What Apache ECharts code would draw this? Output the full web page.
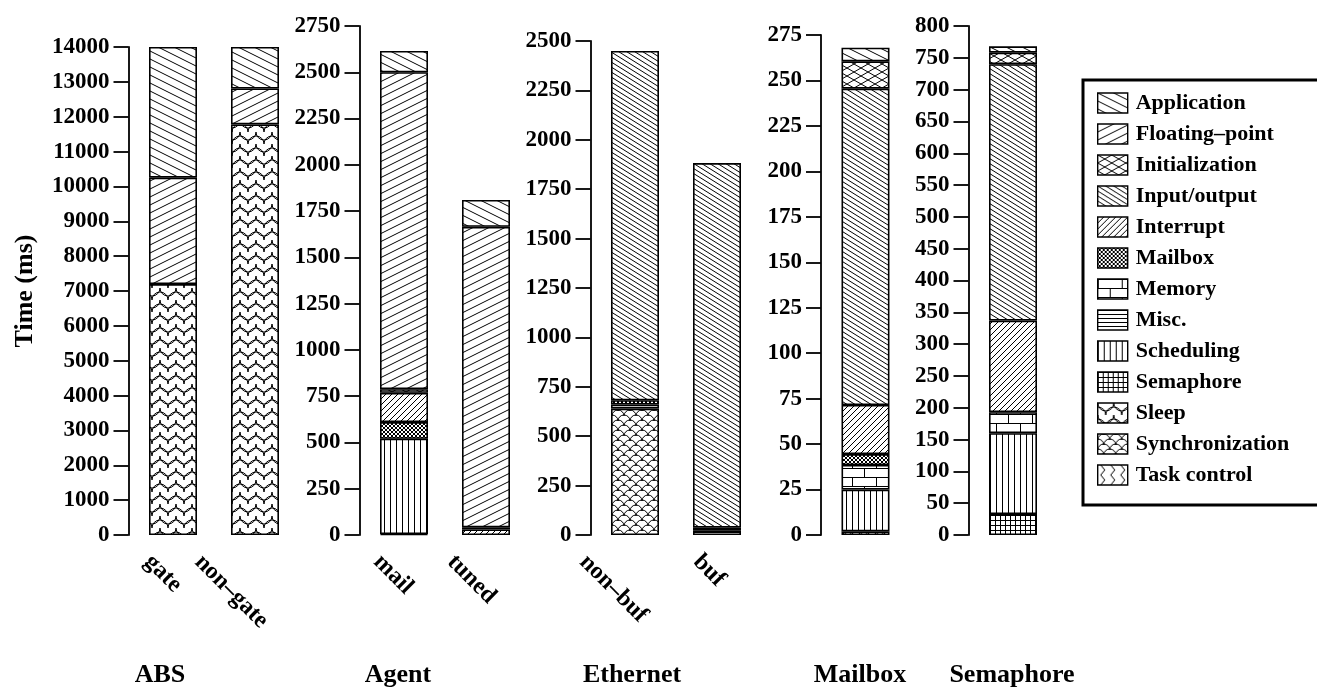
<!DOCTYPE html>
<html>
<head>
<meta charset="utf-8">
<script src="https://cdn.jsdelivr.net/npm/echarts@6/dist/echarts.min.js"></script>
<style>
html,body{margin:0;padding:0;background:#fff;}
#chart{width:1317px;height:694px;}
</style>
</head>
<body>
<div id="chart"></div>
<script>
// ---- data ----
const categoryNames = ['Application','Floating\u2013point','Initialization','Input/output','Interrupt','Mailbox','Memory','Misc.','Scheduling','Semaphore','Sleep','Synchronization','Task control'];
const groupNames = ['ABS','Agent','Ethernet','Mailbox','Semaphore'];
const absLabels = ['gate','non\u2013gate'];
const agentLabels = ['mail','tuned'];
const ethernetLabels = ['non\u2013buf','buf'];
const mailboxLabels = [''];
const semaphoreLabels = [''];
// values in legend order (Application ... Task control), ms
const absGate      = [3750, 3050, 0, 0, 0, 0, 0, 0, 0, 0, 7200, 0, 0];
const absNonGate   = [1190, 1030, 0, 0, 0, 0, 0, 0, 0, 0, 11780, 0, 0];
const agentMail    = [115, 1712, 20, 0, 158, 90, 0, 0, 515, 5, 0, 0, 0];
const agentTuned   = [145, 1623, 12, 0, 30, 0, 0, 0, 0, 0, 0, 0, 0];
const ethNonBuf    = [0, 0, 0, 1768, 0, 22, 0, 20, 0, 0, 0, 640, 0];
const ethBuf       = [0, 0, 0, 1845, 0, 15, 0, 22, 0, 0, 0, 0, 0];
const mailboxBar   = [7.5, 0, 15, 174, 27, 6, 13.5, 0, 23, 0, 2, 0, 0];
const semaphoreBar = [10, 0, 18, 403, 144, 0, 33, 0, 127, 33, 0, 0, 0];
// axis ranges
const yMax      = [14000, 2750, 2500, 275, 800];
const yInterval = [1000, 250, 250, 25, 50];

const groupBars = [[absGate, absNonGate],[agentMail, agentTuned],[ethNonBuf, ethBuf],[mailboxBar],[semaphoreBar]];
const groupLabels = [absLabels, agentLabels, ethernetLabels, mailboxLabels, semaphoreLabels];

// ---- layout ----
const gridBoxes = [
  {left:132, top:47, width:164, height:488},
  {left:363, top:26, width:164, height:509},
  {left:594, top:41, width:164, height:494},
  {left:824.5, top:35, width:82, height:500},
  {left:972, top:26, width:82, height:509}
];
const titleX = [160, 398, 632, 860, 1012];
const FONT = "'Liberation Serif','Times New Roman',serif";
const CAT_FONT = 24;
const LABEL_TOP = 550;   // top of rotated category labels

// ---- patterns ----
function tile(w, h, draw){
  const c = document.createElement('canvas');
  c.width = w; c.height = h;
  const g = c.getContext('2d');
  g.fillStyle = '#fff'; g.fillRect(0,0,w,h);
  g.strokeStyle = '#000'; g.lineWidth = 1;
  g.beginPath(); draw(g, w, h); g.stroke();
  return {image: c, repeat: 'repeat'};
}
function down(g,w,h){ for (const c of [-h,0,h]) { g.moveTo(0,c); g.lineTo(w,c+h); } }
function up(g,w,h){ for (const c of [-h,0,h]) { g.moveTo(0,h+c); g.lineTo(w,c); } }
function arcs(g, list, r, a0, a1){ for (const [x,y] of list){ g.moveTo(x + r*Math.cos(a0), y + r*Math.sin(a0)); g.arc(x,y,r,a0,a1); } }
const patterns = {};
patterns[categoryNames[0]] = tile(16,8,down);
patterns[categoryNames[1]] = tile(16,8,up);
patterns[categoryNames[2]] = tile(14,8,(g,w,h)=>{down(g,w,h);up(g,w,h);});
patterns[categoryNames[3]] = tile(8,5,down);
patterns[categoryNames[4]] = tile(6,6,up);
patterns[categoryNames[5]] = tile(4,4,(g,w,h)=>{down(g,w,h);up(g,w,h);});
patterns[categoryNames[6]] = tile(24,18,(g)=>{g.moveTo(0,0.5);g.lineTo(24,0.5);g.moveTo(0,9.5);g.lineTo(24,9.5);g.moveTo(0.5,0);g.lineTo(0.5,9.5);g.moveTo(12.5,9.5);g.lineTo(12.5,18);});
patterns[categoryNames[7]] = tile(4,4,(g)=>{g.moveTo(0,0.5);g.lineTo(4,0.5);});
patterns[categoryNames[8]] = tile(6,4,(g)=>{g.moveTo(0.5,0);g.lineTo(0.5,4);});
patterns[categoryNames[9]] = tile(5,5,(g)=>{g.moveTo(0,0.5);g.lineTo(5,0.5);g.moveTo(0.5,0);g.lineTo(0.5,5);});
patterns[categoryNames[10]] = tile(16,12,(g)=>{arcs(g,[[8,0],[-8,0],[24,0]],8,0,Math.PI);arcs(g,[[0,12],[16,12]],8,Math.PI,Math.PI*2);});
patterns[categoryNames[11]] = tile(12,10,(g)=>{arcs(g,[[6,6],[0,11],[12,11],[0,1],[12,1],[6,16]],6,Math.PI,Math.PI*2);});
patterns[categoryNames[12]] = tile(10,10,(g)=>{g.moveTo(3,0);g.lineTo(7,5);g.lineTo(3,10);});

// ---- rotated category label placement (rich padding) ----
const measureCtx = document.createElement('canvas').getContext('2d');
measureCtx.font = 'bold ' + CAT_FONT + 'px ' + FONT;
function labelRich(labels, axisBottom){
  const rich = {};
  labels.forEach((t, j) => {
    const L = measureCtx.measureText(t).width;
    const H = CAT_FONT;
    const sx = -15 - 0.27 * (L - 61);
    const sy = LABEL_TOP + 0.3536 * (L + H) - axisBottom;
    const d = (sx + sy) / Math.SQRT2;
    const e = (sy - sx) / Math.SQRT2;
    rich['k' + j] = {
      color:'#000', fontFamily:FONT, fontWeight:'bold', fontSize:CAT_FONT,
      padding:[Math.max(2*e,0), Math.max(-2*d,0), Math.max(-2*e,0), Math.max(2*d,0)]
    };
  });
  return rich;
}

// ---- build ----
const grid = gridBoxes.map(b => Object.assign({containLabel:false}, b));
const xAxis = groupLabels.map((labels, i) => ({
  type:'category', gridIndex:i, data:labels,
  axisLine:{show:false}, axisTick:{show:false},
  axisLabel:{
    rotate:-45, margin:0, interval:0, align:'center', verticalAlign:'middle',
    color:'#000', fontFamily:FONT, fontWeight:'bold', fontSize:CAT_FONT,
    formatter:(v, j) => v ? '{k' + j + '|' + v + '}' : '',
    rich: labelRich(labels, gridBoxes[i].top + gridBoxes[i].height)
  }
}));
const yAxis = yMax.map((m, i) => ({
  type:'value', gridIndex:i, min:0, max:m, interval:yInterval[i], offset:3.5,
  axisLine:{show:true, lineStyle:{color:'#000', width:1.8}},
  axisTick:{show:true, length:15, lineStyle:{color:'#000', width:1.8}},
  splitLine:{show:false},
  axisLabel:{margin:19, color:'#000', fontFamily:FONT, fontWeight:'bold', fontSize:23, formatter:(v)=>String(v)},
  name: i === 0 ? 'Time (ms)' : '',
  nameLocation:'middle', nameGap:90, nameRotate:90,
  nameTextStyle:{color:'#000', fontFamily:FONT, fontWeight:'bold', fontSize:26}
}));
const stackOrder = categoryNames.slice().reverse();
const series = [];
groupBars.forEach((bars, gi) => {
  stackOrder.forEach(name => {
    const idx = categoryNames.indexOf(name);
    series.push({
      type:'bar', name, xAxisIndex:gi, yAxisIndex:gi, stack:'g'+gi, barWidth:48,
      data: bars.map(b => b[idx] ? b[idx] : null),
      itemStyle:{color:patterns[name], borderColor:'#000', borderWidth:1.6},
      emphasis:{disabled:true}, animation:false
    });
  });
});
const title = groupNames.map((t, i) => ({
  text:t, left:titleX[i], top:662, textAlign:'center', padding:0,
  textStyle:{color:'#000', fontFamily:FONT, fontWeight:'bold', fontSize:26}
}));

const chart = echarts.init(document.getElementById('chart'), null, {renderer:'canvas'});
chart.setOption({
  backgroundColor:'#fff',
  animation:false,
  title,
  grid, xAxis, yAxis, series,
  legend:{
    orient:'vertical', left:1083, top:80, data:categoryNames,
    icon:'rect', itemWidth:30, itemHeight:20, itemGap:9,
    selectedMode:false,
    borderColor:'#000', borderWidth:3, padding:[12,60,19,14],
    itemStyle:{borderColor:'#000', borderWidth:1.4},
    textStyle:{color:'#000', fontFamily:FONT, fontWeight:'bold', fontSize:22, lineHeight:22, padding:[0,0,0,3]}
  }
});
</script>
</body>
</html>
